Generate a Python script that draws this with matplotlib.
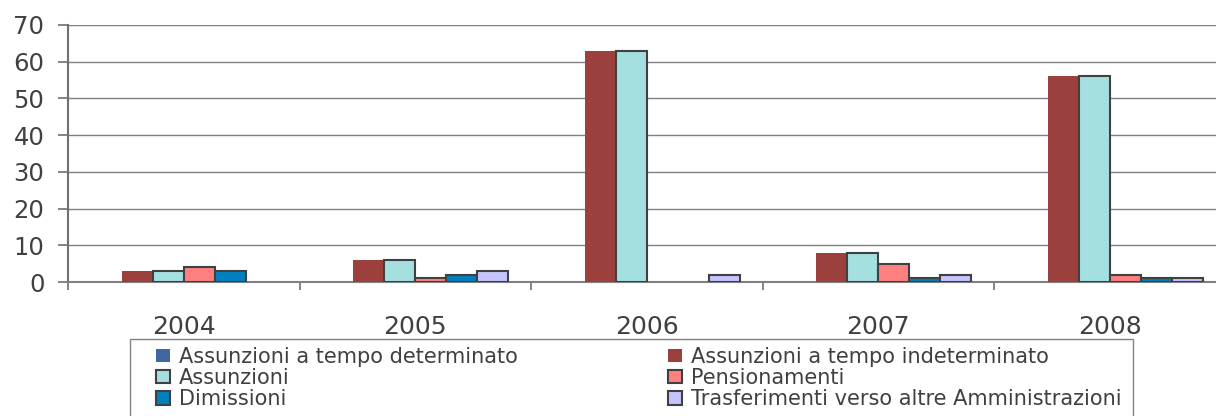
import numpy as np
import matplotlib; matplotlib.use("Agg")
import matplotlib.pyplot as plt
from matplotlib.patches import Rectangle

years = ["2004", "2005", "2006", "2007", "2008"]
series = ["Assunzioni a tempo determinato", "Assunzioni a tempo indeterminato",
          "Assunzioni", "Pensionamenti", "Dimissioni",
          "Trasferimenti verso altre Amministrazioni"]
determinato   = [0, 0, 0, 0, 0]
indeterminato = [3, 6, 63, 8, 56]
assunzioni    = [3, 6, 63, 8, 56]
pensionamenti = [4, 1, 0, 5, 2]
dimissioni    = [3, 2, 0, 1, 1]
trasferimenti = [0, 3, 2, 2, 1]
values = [determinato, indeterminato, assunzioni, pensionamenti, dimissioni, trasferimenti]

colors = ['#4068A0', '#9C403E', '#A4E0E0', '#FF8080', '#0080C0', '#C4C4FF']
edged  = [False, False, True, True, True, True]
TXT = '#404040'

W, H = 1216, 416
fig = plt.figure(figsize=(W/100, H/100), dpi=100)
ax = fig.add_axes([68/W, (H-282)/H, 1157.5/W, 257/H])

x = np.arange(len(years))
bw = 0.134
handles = []
for i, (vals, c, e) in enumerate(zip(values, colors, edged)):
    v = np.asarray(vals, float)
    nz = v > 0  # le barre a zero non si disegnano (niente bordo)
    b = ax.bar((x + (i-2.5)*bw)[nz], v[nz], bw, color=c,
               edgecolor='#404040' if e else 'none', linewidth=1.5 if e else 0,
               zorder=3)
    # handle legenda separato (serve anche per serie tutte a zero)
    h = Rectangle((0, 0), 1, 1, facecolor=c, edgecolor='#404040' if e else 'none',
                  linewidth=1.5 if e else 0)
    handles.append(h)

ax.set_xlim(-0.5, 4.5)
ax.set_ylim(0, 70)
ax.set_yticks(range(0, 71, 10))
ax.yaxis.grid(True, color='#808080', lw=1.0, zorder=0)
ax.set_axisbelow(True)
for s in ['top', 'right']:
    ax.spines[s].set_visible(False)
ax.spines['left'].set_color('#707070'); ax.spines['left'].set_linewidth(1.5)
ax.spines['bottom'].set_color('#808080'); ax.spines['bottom'].set_linewidth(1.5)

ax.set_xticks(np.arange(-0.5, 5, 1))
ax.set_xticklabels([])
ax.set_xticks(x, minor=True)
ax.set_xticklabels(years, minor=True)
ax.tick_params(axis='x', which='major', length=6, width=1.2, color='#707070', direction='out')
ax.tick_params(axis='x', which='minor', length=0, pad=24, labelsize=18, labelcolor=TXT)
ax.tick_params(axis='y', length=7, width=1.2, color='#707070', pad=10, labelsize=17.5, labelcolor=TXT)

# riquadro legenda (tagliato in basso come nell'originale)
fig.patches.append(Rectangle((130/W, -0.1), (1133-130)/W, (H-339)/H + 0.1,
                             transform=fig.transFigure, fill=False,
                             edgecolor='#808080', lw=1.0))
order = [0, 2, 4, 1, 3, 5]
leg = fig.legend([handles[k] for k in order], [series[k] for k in order],
                 ncol=2, loc='upper left', bbox_to_anchor=(156/W, (H-347)/H),
                 frameon=False, borderpad=0, borderaxespad=0, fontsize=15,
                 handlelength=0.67, handleheight=0.62, handletextpad=0.43,
                 labelspacing=0.05, columnspacing=7.2)
for t in leg.get_texts():
    t.set_color(TXT)

fig.savefig("out.png", dpi=100)
